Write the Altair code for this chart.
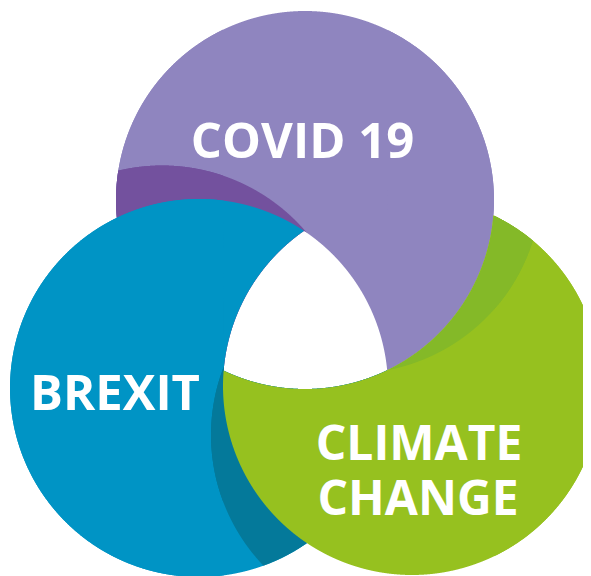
import numpy as np
import pandas as pd
import altair as alt

# ---- values (pixel coordinates of the 591x576 picture) ----
# circles: COVID 19, BREXIT, CLIMATE CHANGE
circle_keys = ["covid", "brexit", "climate"]
circle_cx = [305.0, 199.0, 412.0]
circle_cy = [200.0, 388.0, 386.0]
circle_r = [189.0, 189.0, 189.0]

# shadow circles: BREXIT's shadow on COVID 19, CLIMATE CHANGE's on BREXIT, COVID 19's on CLIMATE CHANGE
shadow_cx = [162.0, 400.0, 352.0]
shadow_cy = [355.0, 435.0, 184.0]
shadow_r = [189.5, 189.0, 189.5]

fill_colors = ["#8f85bf", "#0094c5", "#96c11f"]
shade_colors = ["#73519e", "#04799a", "#84b928"]

label_text = ["COVID 19", "BREXIT", "CLIMATE", "CHANGE"]
label_x = [302.5, 115.0, 419.0, 418.0]
label_y = [158.0, 410.0, 460.0, 515.0]
label_size = [49, 49, 48, 48]

# ---- geometry tables built from the circles ----
xs = [np.arange(0.0, 610.0, 1.0)]
for cx, r in zip(circle_cx + shadow_cx, circle_r + shadow_r):
    xs.append(cx + r * np.cos(np.linspace(0, np.pi, 721)))
xgrid = np.unique(np.round(np.concatenate(xs), 4))


def disc(cx, cy, r):
    d = r * r - (xgrid - cx) ** 2
    s = np.sqrt(np.where(d >= 0, d, np.nan))
    return cy - s, cy + s


def inter(a, b):
    lo = np.maximum(a[0], b[0])
    hi = np.minimum(a[1], b[1])
    bad = ~(lo < hi)
    return np.where(bad, np.nan, lo), np.where(bad, np.nan, hi)


def minus(a, c):
    alo, ahi = a
    clo, chi = c
    cempty = np.isnan(clo)
    # where the cut is absent both pieces cover the whole span (overlap, no seam)
    up_hi = np.where(cempty, ahi, np.clip(clo, alo, ahi))
    low_lo = np.where(cempty, alo, np.clip(chi, alo, ahi))
    return [(alo, up_hi), (low_lo, ahi)]


C = [disc(circle_cx[i], circle_cy[i], circle_r[i]) for i in range(3)]
S = [disc(shadow_cx[i], shadow_cy[i], shadow_r[i]) for i in range(3)]
triple_cut = [inter(C[1], C[2]), inter(C[2], C[0]), C[0]]

regions = []  # painter order
for i in range(3):
    regions.append((circle_keys[i], fill_colors[i], minus(C[i], triple_cut[i])))
    regions.append((circle_keys[i] + "-shade", shade_colors[i],
                    minus(inter(C[i], S[i]), triple_cut[i])))

color_domain = [r[0] for r in regions]
color_range = [r[1] for r in regions]

xscale = alt.Scale(domain=[8, 583], nice=False, zero=False)
yscale = alt.Scale(domain=[8, 576], nice=False, zero=False, reverse=True)
cscale = alt.Scale(domain=color_domain, range=color_range)

layers = []
for key, col, pieces in regions:
    frames = []
    for k, (lo, hi) in enumerate(pieces):
        ok = ~np.isnan(lo) & ~np.isnan(hi)
        if not ok.any() or np.nanmax(hi[ok] - lo[ok]) < 0.01:
            continue
        frames.append(pd.DataFrame({"x": xgrid[ok], "lo": lo[ok], "hi": hi[ok],
                                    "piece": k, "region": key}))
    if not frames:
        continue
    df = pd.concat(frames, ignore_index=True)
    layers.append(
        alt.Chart(df).mark_area(orient="vertical", interpolate="linear").encode(
            x=alt.X("x:Q", scale=xscale, axis=None),
            y=alt.Y("lo:Q", scale=yscale, axis=None, stack=None),
            y2="hi:Q",
            color=alt.Color("region:N", scale=cscale, legend=None),
            detail="piece:N",
        )
    )

labels = pd.DataFrame({"text": label_text, "x": label_x, "y": label_y, "size": label_size})
layers.append(
    alt.Chart(labels).mark_text(font="Open Sans", fontWeight="bold", color="white",
                                align="center", baseline="alphabetic").encode(
        x=alt.X("x:Q", scale=xscale, axis=None),
        y=alt.Y("y:Q", scale=yscale, axis=None),
        text="text:N",
        size=alt.Size("size:Q", scale=None),
    )
)

chart = alt.layer(*layers).properties(
    width=575, height=568, padding=0, autosize="none", background="white"
).configure_view(stroke=None)

chart.save("out.html", embed_options={"renderer": "svg", "actions": False})
